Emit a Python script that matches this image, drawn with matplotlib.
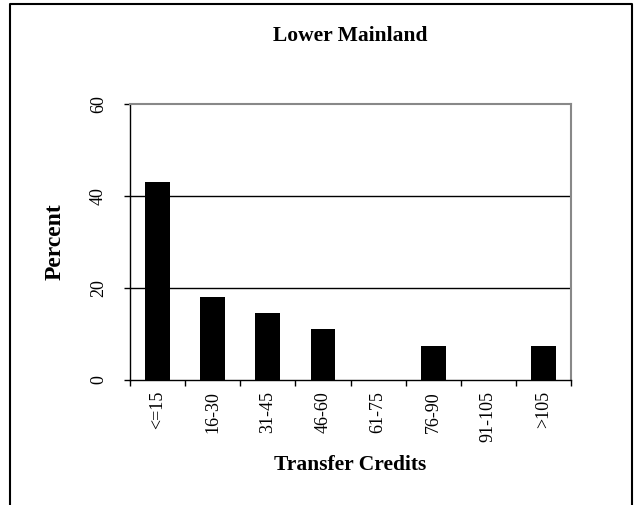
import matplotlib.pyplot as plt
import numpy as np
from matplotlib.lines import Line2D

# data
categories = ['<=15', '16-30', '31-45', '46-60', '61-75', '76-90', '91-105', '>105']
percent = [43.0, 18.1, 14.6, 11.1, 0.0, 7.4, 0.0, 7.4]
y_ticks = [0, 20, 40, 60]

plt.rcParams['font.family'] = ['Liberation Serif', 'DejaVu Serif']

fig = plt.figure(figsize=(6.39, 5.05), dpi=100)
ax = fig.add_axes([130 / 639, 1 - 380 / 505, 441 / 639, 276 / 505])

x = np.arange(len(categories))
ax.bar(x, percent, width=0.45, color='black', zorder=3)

ax.set_xlim(-0.5, len(categories) - 0.5)
ax.set_ylim(0, 60)

# gridlines at 20 and 40
for g in y_ticks[1:-1]:
    ax.axhline(g, color='black', linewidth=1.0, zorder=1)

ax.spines['top'].set_color('#888888')
ax.spines['right'].set_color('#888888')
ax.spines['top'].set_linewidth(1.5)
ax.spines['right'].set_linewidth(1.5)
ax.spines['left'].set_linewidth(1.0)
ax.spines['bottom'].set_linewidth(1.0)

ax.set_xticks(x)
ax.set_xticklabels(categories, rotation=90, fontsize=13)
ax.tick_params(axis='x', which='major', length=0, pad=8)
ax.set_xticks(np.arange(-0.5, len(categories)), minor=True)
ax.tick_params(axis='x', which='minor', length=4, direction='out', width=1)

ax.set_yticks(y_ticks)
ax.set_yticklabels([str(v) for v in y_ticks], rotation=90, va='center', fontsize=13)
ax.tick_params(axis='y', length=4.5, direction='out', width=1, pad=12)

fig.text(0.5 * (130 + 571) / 639, 1 - 36 / 505, 'Lower Mainland', fontsize=15.5,
         fontweight='bold', ha='center', va='center')
fig.text(55 / 639, 1 - 242 / 505, 'Percent', rotation=90, fontsize=17,
         fontweight='bold', ha='center', va='center')
fig.text(0.5 * (130 + 571) / 639, 1 - 465 / 505, 'Transfer Credits',
         fontsize=15.5, fontweight='bold', ha='center', va='center')

# outer frame (open at the bottom)
frame_x = [10 / 639, 10 / 639, 632 / 639, 632 / 639]
frame_y = [0, 1 - 4 / 505, 1 - 4 / 505, 0]
fig.add_artist(Line2D(frame_x, frame_y, transform=fig.transFigure,
                      color='black', linewidth=1.5))

fig.savefig('out.png', dpi=100)
